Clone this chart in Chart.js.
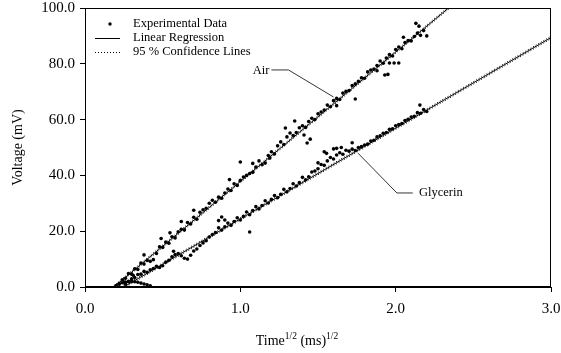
<!DOCTYPE html>
<html>
<head>
<meta charset="utf-8">
<script src="https://cdn.jsdelivr.net/npm/chart.js@4.4.1/dist/chart.umd.min.js"></script>
<style>
  body { margin: 0; background: #fff; }
</style>
</head>
<body>
<canvas id="grafico" width="561" height="353"></canvas>
<script>
// Experimental data, Air (sqrt(ms), mV)
const airTime = [
  0.20,0.22,0.24,0.26,0.28,0.30,0.32,0.34,0.36,0.38,
  0.40,0.42,0.44,0.46,0.48,0.50,0.52,0.54,0.56,0.58,
  0.60,0.62,0.64,0.66,0.68,0.70,0.72,0.74,0.76,0.78,
  0.80,0.82,0.84,0.86,0.88,0.90,0.92,0.94,0.96,0.98,
  1.00,1.02,1.04,1.06,1.08,1.10,1.12,1.14,1.16,1.18,
  1.20,1.22,1.24,1.26,1.28,1.30,1.32,1.34,1.36,1.38,
  1.40,1.42,1.44,1.46,1.48,1.50,1.52,1.54,1.56,1.58,
  1.60,1.62,1.64,1.66,1.68,1.70,1.72,1.74,1.76,1.78,
  1.80,1.82,1.84,1.86,1.88,1.90,1.92,1.94,1.96,1.98,
  2.00,2.02,2.04,2.06,2.08,2.10,2.12,2.14,2.16,2.18,
  2.20
];
const airVoltage = [
  0.3,1.2,2.6,3.1,4.8,4.6,6.5,6.3,8.6,8.2,
  9.5,9.2,9.8,12.0,14.4,14.2,16.1,15.7,18.0,17.6,
  19.8,20.7,20.4,23.1,22.6,25.0,24.3,26.8,27.7,28.2,
  30.0,31.1,30.4,32.2,31.8,33.7,35.1,34.6,37.0,36.4,
  38.2,39.4,40.0,40.7,41.1,43.0,45.2,43.8,44.4,47.1,
  48.5,47.7,50.6,52.0,51.1,53.8,55.2,54.3,55.4,57.1,
  57.8,57.2,59.3,60.5,60.0,62.1,62.7,63.4,65.2,64.6,
  66.8,67.6,67.2,69.5,70.1,70.4,72.2,72.8,73.7,75.0,
  74.8,77.1,77.8,78.1,79.4,81.0,80.2,82.1,83.3,82.8,
  85.1,86.0,85.4,87.6,88.3,88.2,89.8,91.0,90.2,91.9,
  90.0
];
// scattered Air readings
const airExtraTime = [0.25,0.31,0.38,0.49,0.547,0.62,0.70,0.93,1.0,1.08,1.19,1.29,1.35,1.41,1.43,1.45,1.62,1.74,1.88,1.93,1.95,1.96,1.99,2.02,2.05,2.13,2.15];
const airExtraVoltage = [1.8,4.2,11.5,17.4,19.4,23.5,27.5,38.5,44.8,44.3,46.2,57.0,59.5,54.5,51.6,53.0,65.0,67.4,77.5,76.0,76.2,80.3,80.3,80.3,89.5,94.5,93.5];

// Experimental data, Glycerin
const glyTime = [
  0.26,0.28,0.30,0.32,0.34,0.36,0.38,0.40,0.42,0.44,
  0.46,0.48,0.50,0.52,0.54,0.56,0.58,0.60,0.62,0.64,
  0.66,0.68,0.70,0.72,0.74,0.76,0.78,0.80,0.82,0.84,
  0.86,0.88,0.90,0.92,0.94,0.96,0.98,1.00,1.02,1.04,
  1.06,1.08,1.10,1.12,1.14,1.16,1.18,1.20,1.22,1.24,
  1.26,1.28,1.30,1.32,1.34,1.36,1.38,1.40,1.42,1.44,
  1.46,1.48,1.50,1.52,1.54,1.56,1.58,1.60,1.62,1.64,
  1.66,1.68,1.70,1.72,1.74,1.76,1.78,1.80,1.82,1.84,
  1.86,1.88,1.90,1.92,1.94,1.96,1.98,2.00,2.02,2.04,
  2.06,2.08,2.10,2.12,2.14,2.16,2.18,2.20
];
const glyVoltage = [
  1.0,1.9,2.9,3.4,4.5,4.6,5.6,5.3,6.2,6.6,
  7.4,7.0,7.6,8.9,9.6,10.8,11.6,12.0,11.2,10.3,
  10.0,11.4,12.9,13.6,14.9,15.8,16.6,17.9,18.8,19.5,
  21.2,20.4,21.6,22.9,22.1,23.5,24.8,24.0,25.3,26.9,
  25.9,27.4,28.8,28.0,29.2,30.9,30.1,31.4,32.8,32.0,
  33.2,35.0,34.1,35.3,37.0,36.2,37.4,39.3,38.4,39.5,
  41.2,41.6,42.4,43.9,43.6,45.2,46.4,45.9,47.3,48.1,
  47.6,49.0,48.7,49.4,48.9,50.0,50.3,50.9,51.2,52.3,
  52.6,53.8,54.2,55.1,55.4,56.5,56.7,57.8,58.2,58.6,
  59.7,60.1,60.9,61.2,62.5,62.3,63.6,62.9
];
const glyExtraTime = [0.57,0.86,0.88,0.90,1.06,1.50,1.54,1.555,1.60,1.62,1.65,1.72,2.156];
const glyExtraVoltage = [12.8,23.8,25.1,24.0,19.7,44.5,48.5,47.9,49.5,49.7,50.0,51.7,65.2];
// early readings near zero
const startTime = [0.20,0.22,0.24,0.26,0.28,0.30,0.32,0.34,0.36,0.38,0.40,0.42];
const startVoltage = [0.4,1.0,1.5,1.8,2.0,2.0,1.9,1.7,1.4,1.1,0.8,0.4];

// linear regressions: voltage = slope * time + intercept
const airSlope = 46.4, airIntercept = -8.6;
const glySlope = 32.5, glyIntercept = -8.09;
const ciHalfWidth = 0.45;

const xTicks = [0, 1, 2, 3];
const yTicks = [0, 20, 40, 60, 80, 100];

const legendLabels = ["Experimental Data", "Linear Regression", "95 % Confidence Lines"];

function pares(xs, ys) {
  return xs.map((t, i) => ({ x: t, y: ys[i] }));
}
function recta(slope, intercept, shift) {
  const t0 = -intercept / slope;
  return [
    { x: t0, y: shift },
    { x: 3, y: slope * 3 + intercept + shift }
  ];
}

const SERIF = "'Liberation Serif', 'Times New Roman', serif";

const puntos = {
  type: "scatter",
  pointRadius: 1.8,
  pointBackgroundColor: "#000",
  pointBorderWidth: 0,
  showLine: false
};
const linea = (data, dash) => ({
  type: "line",
  data,
  borderColor: "#000",
  borderWidth: 1,
  borderDash: dash,
  pointRadius: 0,
  fill: false,
  tension: 0
});

const datasets = [
  { ...puntos, data: pares(airTime, airVoltage).concat(pares(airExtraTime, airExtraVoltage)) },
  { ...puntos, data: pares(glyTime, glyVoltage).concat(pares(glyExtraTime, glyExtraVoltage), pares(startTime, startVoltage)) },
  linea(recta(airSlope, airIntercept, 0), []),
  linea(recta(glySlope, glyIntercept, 0), []),
  linea(recta(airSlope, airIntercept, ciHalfWidth), [1, 2]),
  linea(recta(airSlope, airIntercept, -ciHalfWidth), [1, 2]),
  linea(recta(glySlope, glyIntercept, ciHalfWidth), [1, 2]),
  linea(recta(glySlope, glyIntercept, -ciHalfWidth), [1, 2])
];

// leader lines for the labels, in data units
const etiquetas = [
  { text: "Air", at: [1.08, 77.6], path: [[1.20, 77.8], [1.31, 77.8], [1.60, 68.1]] },
  { text: "Glycerin", at: [2.15, 33.7], path: [[1.757, 48.0], [2.008, 33.7], [2.11, 33.7]] }
];

const decoracion = {
  id: "decoracion",
  afterDraw(chart) {
    const { ctx, chartArea: a, scales: { x, y } } = chart;
    ctx.save();
    ctx.strokeStyle = "#000";
    ctx.lineWidth = 1;
    ctx.strokeRect(Math.round(a.left) + 0.5, Math.round(a.top) + 0.5,
      Math.round(a.right - a.left) - 1, Math.round(a.bottom - a.top) - 1);

    // legend
    ctx.font = "12.5px " + SERIF;
    ctx.fillStyle = "#000";
    ctx.textBaseline = "middle";
    const lx = a.left, ly = a.top;
    ctx.beginPath();
    ctx.arc(lx + 25, ly + 16, 1.7, 0, Math.PI * 2);
    ctx.fill();
    ctx.beginPath();
    ctx.moveTo(lx + 10, ly + 30.5);
    ctx.lineTo(lx + 35, ly + 30.5);
    ctx.stroke();
    ctx.setLineDash([1, 2]);
    ctx.beginPath();
    ctx.moveTo(lx + 10, ly + 44.5);
    ctx.lineTo(lx + 35, ly + 44.5);
    ctx.stroke();
    ctx.setLineDash([]);
    legendLabels.forEach((t, i) => ctx.fillText(t, lx + 48, ly + 16 + i * 14));

    // labels with leaders
    ctx.lineWidth = 0.8;
    etiquetas.forEach(e => {
      ctx.beginPath();
      e.path.forEach((p, i) => {
        const px = x.getPixelForValue(p[0]), py = y.getPixelForValue(p[1]);
        if (i === 0) ctx.moveTo(px, py); else ctx.lineTo(px, py);
      });
      ctx.stroke();
      ctx.fillText(e.text, x.getPixelForValue(e.at[0]), y.getPixelForValue(e.at[1]));
    });

    // axis titles
    ctx.font = "14px " + SERIF;
    ctx.save();
    ctx.translate(18, (a.top + a.bottom) / 2);
    ctx.rotate(-Math.PI / 2);
    ctx.textAlign = "center";
    ctx.fillText("Voltage (mV)", 0, 0);
    ctx.restore();

    const partes = [["Time", 14, 0], ["1/2", 9.5, -5], [" (ms)", 14, 0], ["1/2", 9.5, -5]];
    let ancho = 0;
    partes.forEach(p => { ctx.font = p[1] + "px " + SERIF; ancho += ctx.measureText(p[0]).width; });
    let cx = a.left + 212 - ancho / 2;
    ctx.textAlign = "left";
    partes.forEach(p => {
      ctx.font = p[1] + "px " + SERIF;
      ctx.fillText(p[0], cx, 341 + p[2]);
      cx += ctx.measureText(p[0]).width;
    });
    ctx.restore();
  }
};

const ejeComun = {
  type: "linear",
  grid: { display: true, drawOnChartArea: false, drawTicks: true, tickLength: 5, color: "#000" },
  border: { display: true, color: "#000", width: 1 },
  ticks: { color: "#000", font: { family: SERIF, size: 15 }, callback: v => v.toFixed(1) }
};

new Chart(document.getElementById("grafico"), {
  data: { datasets },
  options: {
    responsive: false,
    animation: false,
    layout: { padding: { top: 8, right: 10, left: 0, bottom: 0 } },
    plugins: { legend: { display: false }, tooltip: { enabled: false } },
    scales: {
      x: {
        ...ejeComun,
        min: xTicks[0], max: xTicks[xTicks.length - 1],
        afterBuildTicks: s => { s.ticks = xTicks.map(v => ({ value: v })); },
        ticks: { ...ejeComun.ticks, padding: 8, maxRotation: 0 },
        afterFit: s => { s.height = 66; s.paddingLeft = 0; s.paddingRight = 0; }
      },
      y: {
        ...ejeComun,
        min: yTicks[0], max: yTicks[yTicks.length - 1],
        afterBuildTicks: s => { s.ticks = yTicks.map(v => ({ value: v })); },
        ticks: { ...ejeComun.ticks, padding: 5 },
        afterFit: s => { s.width = 85; s.paddingTop = 0; s.paddingBottom = 0; }
      }
    }
  },
  plugins: [decoracion]
});
</script>
</body>
</html>
